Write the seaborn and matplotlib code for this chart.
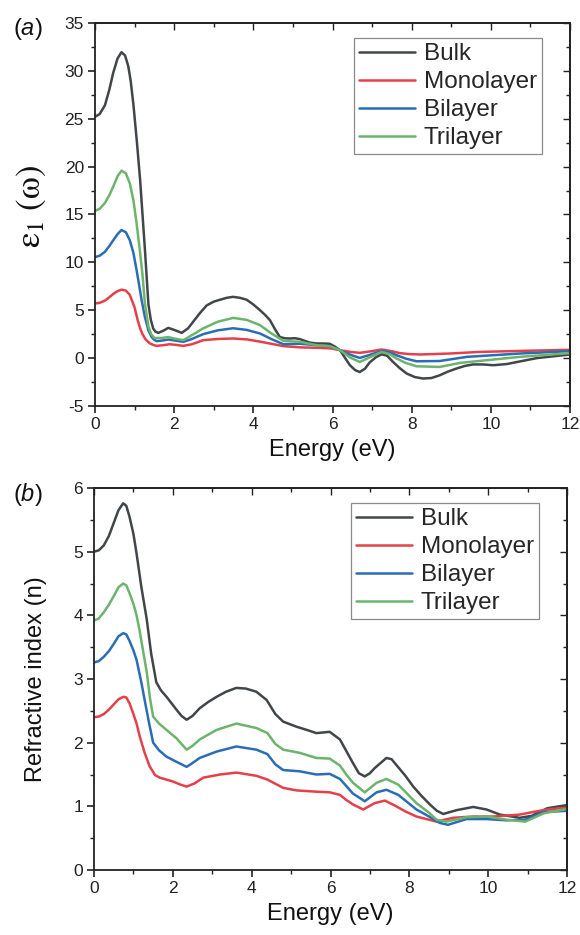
import numpy as np
import pandas as pd
import matplotlib
matplotlib.use("Agg")
import matplotlib.pyplot as plt
from matplotlib.ticker import MultipleLocator
import seaborn as sns

sns.set_theme(style="white")
plt.rcParams["font.family"] = ["Liberation Sans", "DejaVu Sans"]
plt.rcParams["mathtext.fontset"] = "custom"
plt.rcParams["mathtext.rm"] = "Liberation Sans"
plt.rcParams["mathtext.it"] = "Liberation Sans:italic"
plt.rcParams["axes.unicode_minus"] = False

SERIES = ["Bulk", "Monolayer", "Bilayer", "Trilayer"]
COLORS = {"Bulk": "#41464b", "Monolayer": "#e5404a", "Bilayer": "#2b6db5", "Trilayer": "#6cb46c"}

# ---- panel (a): real part of dielectric function ----
EPS_BULK_E = [0, 0.12, 0.25, 0.36, 0.46, 0.57, 0.67, 0.76, 0.84, 0.9, 0.97, 1.06, 1.14, 1.2, 1.26,
              1.35, 1.41, 1.47, 1.53, 1.6, 1.72, 1.85, 2.0, 2.19, 2.35, 2.48, 2.65, 2.82, 3.0, 3.16,
              3.33, 3.49, 3.66, 3.83, 4.0, 4.17, 4.3, 4.42, 4.55, 4.67, 4.8, 4.92, 5.05, 5.18, 5.3,
              5.43, 5.6, 5.8, 5.93, 6.06, 6.19, 6.32, 6.44, 6.57, 6.69, 6.82, 6.94, 7.1, 7.24, 7.38,
              7.53, 7.7, 7.87, 8.08, 8.29, 8.5, 8.71, 8.92, 9.13, 9.34, 9.55, 9.8, 10.06, 10.4,
              10.73, 11.16, 11.6, 12]
EPS_BULK = [25.2, 25.5, 26.4, 28.0, 29.8, 31.3, 31.95, 31.6, 30.5, 29.0, 26.5, 22.5, 18.6, 15.0, 11.4,
            5.6, 4.0, 3.1, 2.75, 2.64, 2.85, 3.16, 2.95, 2.64, 3.1, 3.8, 4.7, 5.5, 5.9, 6.1,
            6.3, 6.4, 6.3, 6.1, 5.6, 5.0, 4.5, 3.96, 3.0, 2.2, 2.07, 2.05, 2.08, 1.98, 1.8,
            1.62, 1.53, 1.52, 1.5, 1.2, 0.83, 0.0, -0.74, -1.25, -1.45, -1.1, -0.45, 0.1, 0.4, 0.25,
            -0.4, -1.05, -1.6, -1.98, -2.13, -2.08, -1.79, -1.4, -1.09, -0.82, -0.66, -0.66, -0.74, -0.62,
            -0.35, 0.0, 0.2, 0.38]

EPS_MONO_E = [0, 0.12, 0.25, 0.36, 0.46, 0.57, 0.67, 0.78, 0.88, 1.0, 1.07, 1.14, 1.2, 1.27, 1.33,
              1.39, 1.47, 1.56, 1.72, 1.89, 2.05, 2.23, 2.45, 2.73, 3.1, 3.49, 3.85, 4.17, 4.45, 4.76,
              5.2, 5.68, 5.95, 6.19, 6.45, 6.69, 6.95, 7.24, 7.5, 7.7, 7.95, 8.21, 8.96, 9.72, 10.73,
              12]
EPS_MONO = [5.7, 5.78, 6.0, 6.35, 6.7, 7.0, 7.15, 7.05, 6.6, 5.3, 4.1, 3.1, 2.5, 2.0, 1.75,
            1.53, 1.38, 1.28, 1.35, 1.45, 1.38, 1.28, 1.45, 1.87, 2.0, 2.05, 1.95, 1.72, 1.5, 1.25,
            1.12, 1.07, 1.02, 0.83, 0.65, 0.55, 0.7, 0.9, 0.72, 0.52, 0.42, 0.38, 0.48, 0.65, 0.75,
            0.87]

EPS_BI_E = [0, 0.12, 0.25, 0.36, 0.46, 0.57, 0.67, 0.78, 0.88, 0.97, 1.05, 1.12, 1.18, 1.26, 1.35,
            1.43, 1.5, 1.56, 1.72, 1.85, 2.0, 2.23, 2.45, 2.73, 3.1, 3.49, 3.83, 4.17, 4.45, 4.76,
            5.18, 5.6, 5.93, 6.19, 6.45, 6.69, 6.95, 7.24, 7.45, 7.62, 7.85, 8.12, 8.71, 9.39,
            10.73, 12]
EPS_BI = [10.55, 10.7, 11.1, 11.7, 12.3, 12.95, 13.38, 13.15, 12.3, 11.0, 9.2, 7.5, 6.0, 4.3, 2.9,
          2.2, 1.9, 1.77, 1.85, 1.94, 1.85, 1.7, 2.0, 2.5, 2.9, 3.12, 2.95, 2.57, 2.0, 1.45,
          1.5, 1.35, 1.25, 0.83, 0.35, 0.02, 0.35, 0.75, 0.6, 0.3, -0.05, -0.33, -0.3, 0.13,
          0.48, 0.73]

EPS_TRI_E = [0, 0.12, 0.25, 0.36, 0.46, 0.57, 0.67, 0.78, 0.88, 0.97, 1.05, 1.14, 1.2, 1.26, 1.35,
             1.42, 1.5, 1.68, 1.85, 2.0, 2.23, 2.45, 2.73, 3.1, 3.49, 3.83, 4.17, 4.45, 4.76, 5.18,
             5.6, 5.93, 6.19, 6.45, 6.69, 6.95, 7.24, 7.45, 7.62, 7.85, 8.12, 8.71, 9.22, 9.89,
             10.73, 12]
EPS_TRI = [15.37, 15.6, 16.2, 17.0, 17.9, 19.0, 19.58, 19.3, 18.25, 16.5, 14.1, 11.0, 8.7, 5.7, 3.3,
           2.5, 2.1, 2.1, 2.2, 2.05, 1.87, 2.4, 3.1, 3.8, 4.2, 4.0, 3.44, 2.6, 1.8, 1.7,
           1.35, 1.25, 0.83, 0.05, -0.4, 0.1, 0.65, 0.4, -0.04, -0.5, -0.85, -0.92, -0.5, -0.22,
           0.13, 0.52]

# ---- panel (b): refractive index ----
N_BULK_E = [0, 0.12, 0.25, 0.38, 0.5, 0.62, 0.74, 0.82, 0.9, 1.0, 1.08, 1.2, 1.34, 1.45, 1.58,
            1.7, 1.84, 2.09, 2.22, 2.35, 2.5, 2.68, 2.9, 3.11, 3.35, 3.61, 3.85, 4.12, 4.38, 4.6,
            4.8, 5.14, 5.4, 5.64, 5.98, 6.24, 6.4, 6.57, 6.72, 6.87, 7.0, 7.12, 7.42, 7.55, 7.67,
            7.9, 8.1, 8.3, 8.52, 8.7, 8.86, 9.2, 9.62, 9.96, 10.3, 10.8, 11.1, 11.5, 12]
N_BULK = [5.0, 5.02, 5.1, 5.25, 5.45, 5.65, 5.76, 5.72, 5.55, 5.28, 4.97, 4.45, 3.93, 3.4, 2.95,
          2.82, 2.72, 2.52, 2.42, 2.36, 2.42, 2.54, 2.64, 2.72, 2.8, 2.86, 2.85, 2.8, 2.67, 2.45,
          2.33, 2.25, 2.2, 2.15, 2.17, 2.05, 1.87, 1.68, 1.52, 1.47, 1.52, 1.6, 1.76, 1.74, 1.65,
          1.48, 1.31, 1.17, 1.03, 0.93, 0.88, 0.94, 0.99, 0.95, 0.87, 0.82, 0.85, 0.97, 1.02]

N_MONO_E = [0, 0.12, 0.25, 0.38, 0.5, 0.62, 0.74, 0.82, 0.9, 1.0, 1.08, 1.16, 1.28, 1.41, 1.55,
            1.67, 2.0, 2.2, 2.35, 2.55, 2.77, 3.2, 3.61, 4.12, 4.4, 4.8, 5.14, 5.64, 5.98, 6.24,
            6.4, 6.57, 6.83, 7.12, 7.38, 7.64, 7.9, 8.18, 8.69, 9.11, 9.62, 10.13, 10.8, 11.13,
            11.5, 12]
N_MONO = [2.4, 2.41, 2.45, 2.52, 2.6, 2.68, 2.72, 2.71, 2.62, 2.45, 2.3, 2.1, 1.85, 1.63, 1.49,
          1.45, 1.39, 1.34, 1.31, 1.36, 1.45, 1.5, 1.53, 1.48, 1.42, 1.29, 1.25, 1.23, 1.22, 1.18,
          1.1, 1.03, 0.95, 1.05, 1.09, 1.01, 0.92, 0.84, 0.76, 0.82, 0.84, 0.84, 0.87, 0.91,
          0.95, 0.98]

N_BI_E = [0, 0.12, 0.25, 0.38, 0.5, 0.62, 0.74, 0.82, 0.9, 1.0, 1.08, 1.2, 1.3, 1.4, 1.5,
          1.65, 1.84, 2.09, 2.35, 2.5, 2.68, 3.11, 3.61, 4.12, 4.4, 4.6, 4.8, 5.22, 5.64, 5.98,
          6.24, 6.4, 6.57, 6.87, 7.17, 7.42, 7.72, 8.18, 8.5, 8.77, 8.98, 9.45, 9.96, 10.47,
          10.94, 11.41, 12]
N_BI = [3.26, 3.28, 3.35, 3.44, 3.55, 3.67, 3.72, 3.7, 3.6, 3.45, 3.3, 2.95, 2.62, 2.3, 2.0,
        1.88, 1.78, 1.7, 1.62, 1.68, 1.76, 1.86, 1.94, 1.89, 1.82, 1.66, 1.57, 1.55, 1.5, 1.51,
        1.43, 1.32, 1.2, 1.08, 1.22, 1.26, 1.18, 0.95, 0.84, 0.74, 0.71, 0.8, 0.8, 0.78,
        0.79, 0.91, 0.93]

N_TRI_E = [0, 0.12, 0.25, 0.38, 0.5, 0.62, 0.74, 0.82, 0.9, 1.0, 1.08, 1.16, 1.24, 1.34, 1.42,
           1.5, 1.65, 1.84, 2.09, 2.35, 2.5, 2.68, 3.11, 3.61, 4.12, 4.4, 4.6, 4.8, 5.22, 5.64,
           5.98, 6.24, 6.4, 6.57, 6.87, 7.17, 7.42, 7.72, 8.18, 8.5, 8.69, 8.94, 9.45, 9.96,
           10.47, 10.94, 11.41, 12]
N_TRI = [3.92, 3.95, 4.05, 4.17, 4.3, 4.44, 4.5, 4.47, 4.35, 4.18, 4.0, 3.75, 3.46, 3.1, 2.7,
         2.41, 2.3, 2.2, 2.07, 1.89, 1.95, 2.05, 2.2, 2.3, 2.23, 2.15, 1.98, 1.89, 1.84, 1.76,
         1.75, 1.64, 1.5, 1.37, 1.22, 1.37, 1.43, 1.34, 1.05, 0.9, 0.79, 0.76, 0.83, 0.84,
         0.79, 0.76, 0.89, 0.96]


def long_frame(pairs):
    rows = []
    for name, (xs, ys) in pairs.items():
        rows.append(pd.DataFrame({"energy": xs, "value": ys, "sample": name}))
    return pd.concat(rows, ignore_index=True)


eps_df = long_frame({"Bulk": (EPS_BULK_E, EPS_BULK), "Monolayer": (EPS_MONO_E, EPS_MONO),
                     "Bilayer": (EPS_BI_E, EPS_BI), "Trilayer": (EPS_TRI_E, EPS_TRI)})
n_df = long_frame({"Bulk": (N_BULK_E, N_BULK), "Monolayer": (N_MONO_E, N_MONO),
                   "Bilayer": (N_BI_E, N_BI), "Trilayer": (N_TRI_E, N_TRI)})


def style_axes(ax, ymin, ymax, ymaj, ymin_step):
    ax.set_xlim(0, 12)
    ax.set_ylim(ymin, ymax)
    ax.xaxis.set_major_locator(MultipleLocator(2))
    ax.xaxis.set_minor_locator(MultipleLocator(1))
    ax.yaxis.set_major_locator(MultipleLocator(ymaj))
    ax.yaxis.set_minor_locator(MultipleLocator(ymin_step))
    for sp in ax.spines.values():
        sp.set_color("#222222")
        sp.set_linewidth(1.3)
    ax.tick_params(which="major", direction="out", length=5, width=1.2, color="#222222",
                   labelsize=12.5, labelcolor="#222222", bottom=True, left=True, pad=3)
    ax.tick_params(which="minor", direction="out", length=3, width=1.0, color="#222222",
                   bottom=True, left=True)
    # mirrored ticks pointing inward on top and right
    top = ax.secondary_xaxis("top")
    top.xaxis.set_major_locator(MultipleLocator(2))
    top.xaxis.set_minor_locator(MultipleLocator(1))
    top.tick_params(which="both", direction="in", labeltop=False, color="#222222", width=1.0)
    top.tick_params(which="major", length=5)
    top.tick_params(which="minor", length=3)
    right = ax.secondary_yaxis("right")
    right.yaxis.set_major_locator(MultipleLocator(ymaj))
    right.yaxis.set_minor_locator(MultipleLocator(ymin_step))
    right.tick_params(which="both", direction="in", labelright=False, color="#222222", width=1.0)
    right.tick_params(which="major", length=5)
    right.tick_params(which="minor", length=3)
    ax.grid(False)


def draw(ax, df):
    sns.lineplot(data=df, x="energy", y="value", hue="sample", hue_order=SERIES,
                 palette=COLORS, estimator=None, sort=False, linewidth=1.8,
                 solid_joinstyle="round", ax=ax)
    ax.legend(loc="upper right", bbox_to_anchor=(0.94, 0.96), fontsize=17.5, frameon=True,
              fancybox=False, edgecolor="#8a8a8a", framealpha=1, handlelength=2.3,
              handletextpad=0.35, labelspacing=0.25, borderpad=0.2, borderaxespad=0)
    ax.get_legend().get_frame().set_linewidth(0.9)


fig = plt.figure(figsize=(5.8, 9.35), dpi=100)
ax1 = fig.add_axes([95 / 580, 1 - 406 / 935, 475 / 580, 383 / 935])
ax2 = fig.add_axes([94 / 580, 1 - 870 / 935, 473 / 580, 382 / 935])

draw(ax1, eps_df)
style_axes(ax1, -5, 35, 5, 2.5)
ax1.set_xlabel("Energy (eV)", fontsize=17, color="#111111", labelpad=5)
ax1.set_ylabel(r"$\mathrm{\varepsilon_1\ (\omega)}$", fontsize=25, color="#111111",
               math_fontfamily="stix")
ax1.yaxis.set_label_coords(-0.1, 0.52)
fig.text(13 / 580, 1 - 29 / 935, r"($\it{a}$)", fontsize=17, color="#111111", va="center")

draw(ax2, n_df)
style_axes(ax2, 0, 6, 1, 0.5)
ax2.set_xlabel("Energy (eV)", fontsize=17, color="#111111", labelpad=5)
ax2.set_ylabel("Refractive index (n)", fontsize=17, color="#111111")
ax2.yaxis.set_label_coords(-0.1, 0.5)
fig.text(13 / 580, 1 - 495 / 935, r"($\it{b}$)", fontsize=17, color="#111111", va="center")

fig.savefig("out.png", dpi=100, facecolor="white")
